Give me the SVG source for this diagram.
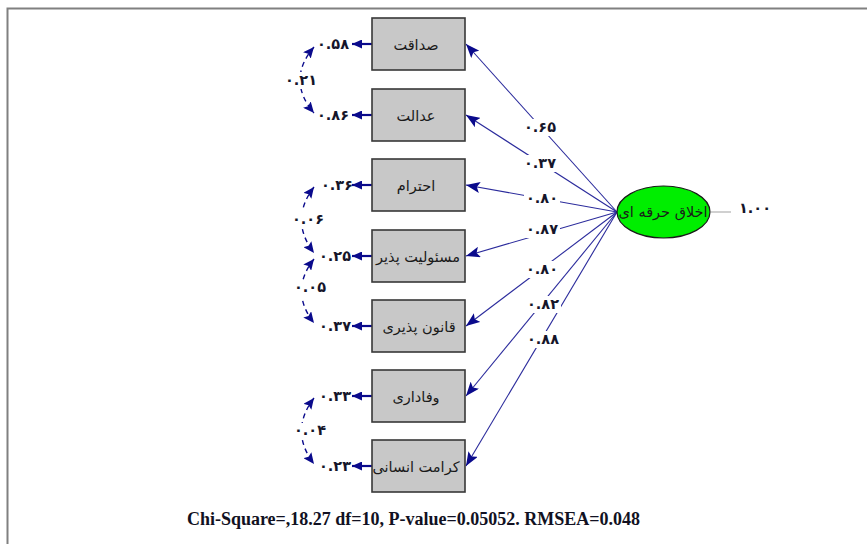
<svg xmlns="http://www.w3.org/2000/svg" width="867" height="544" viewBox="0 0 867 544">
<style>
.box{fill:#c8c8c8;stroke:#383838;stroke-width:1.6}
.bt{font-family:"DejaVu Sans",sans-serif;font-size:14.5px;fill:#1a1a1a;text-anchor:middle}
.num{font-family:"DejaVu Sans",sans-serif;font-size:14.5px;font-weight:bold;fill:#15152a;text-anchor:middle}
.load{stroke:#2b2b9c;stroke-width:1.1;fill:none;marker-end:url(#ah)}
.var{stroke:#0a0a8c;stroke-width:2.2;fill:none;marker-end:url(#ahs)}
.cov{stroke:#0a0a8c;stroke-width:1.4;fill:none;stroke-dasharray:5 4;marker-start:url(#ahc);marker-end:url(#ahc)}
.bg{fill:#ffffff}
</style>
<defs>
<marker id="ah" markerUnits="userSpaceOnUse" markerWidth="14" markerHeight="11" refX="14" refY="5.5" orient="auto"><path d="M0,0 L14,5.5 L0,11 L3,5.5 z" fill="#0a0a8c"/></marker>
<marker id="ahs" markerUnits="userSpaceOnUse" markerWidth="10" markerHeight="9" refX="10" refY="4.5" orient="auto"><path d="M0,0 L10,4.5 L0,9 z" fill="#0a0a8c"/></marker>
<marker id="ahc" markerUnits="userSpaceOnUse" markerWidth="11" markerHeight="10" refX="11" refY="5" orient="auto-start-reverse"><path d="M0,0 L11,5 L0,10 L2,5 z" fill="#0a0a8c"/></marker>
</defs>
<rect width="867" height="544" fill="#ffffff"/>
<path d="M7.5,544 V8.5 H867" fill="none" stroke="#808080" stroke-width="2"/>

<g id="connectors">
<path class="load" d="M617,212 L466,44"/>
<path class="load" d="M617,212 L466,115"/>
<path class="load" d="M617,212 L466,185"/>
<path class="load" d="M617,212 L466,256"/>
<path class="load" d="M617,212 L466,326"/>
<path class="load" d="M617,212 L466,396"/>
<path class="load" d="M617,212 L466,466"/>
<path d="M711,212 H731" stroke="#c0c0c0" stroke-width="1.5"/>
<path class="var" d="M372,44 H352"/>
<path class="var" d="M372,115 H352"/>
<path class="var" d="M372,185 H352"/>
<path class="var" d="M372,256 H352"/>
<path class="var" d="M372,326 H352"/>
<path class="var" d="M372,396 H352"/>
<path class="var" d="M372,466 H352"/>
<path class="cov" d="M314,47 Q286,80 314,113"/>
<path class="cov" d="M314,187 Q289,220 314,253"/>
<path class="cov" d="M314,259 Q289,291 314,323"/>
<path class="cov" d="M314,398 Q289,431 314,464"/>
<g id="loading-labels">
<rect class="bg" x="522" y="119" width="36" height="17"/><text class="num" x="540" y="132">۰.۶۵</text>
<rect class="bg" x="522" y="155" width="36" height="17"/><text class="num" x="540" y="168">۰.۳۷</text>
<rect class="bg" x="524" y="190" width="36" height="17"/><text class="num" x="542" y="203">۰.۸۰</text>
<rect class="bg" x="524" y="221" width="36" height="17"/><text class="num" x="542" y="234">۰.۸۷</text>
<rect class="bg" x="524" y="261" width="36" height="17"/><text class="num" x="542" y="274">۰.۸۰</text>
<rect class="bg" x="525" y="296" width="36" height="17"/><text class="num" x="543" y="309">۰.۸۲</text>
<rect class="bg" x="525" y="331" width="36" height="17"/><text class="num" x="543" y="344">۰.۸۸</text>
</g>
<g id="cov-labels">
<rect class="bg" x="285" y="72" width="32" height="17"/><text class="num" x="301" y="85">۰.۲۱</text>
<rect class="bg" x="292" y="211" width="32" height="17"/><text class="num" x="308" y="224">۰.۰۶</text>
<rect class="bg" x="294" y="280" width="32" height="17"/><text class="num" x="310" y="292">۰.۰۵</text>
<rect class="bg" x="294" y="423" width="32" height="17"/><text class="num" x="310" y="435">۰.۰۴</text>
</g>
</g>

<g id="var-labels">
<text class="num" x="333" y="49">۰.۵۸</text>
<text class="num" x="333" y="120">۰.۸۶</text>
<text class="num" x="337" y="190">۰.۳۶</text>
<text class="num" x="335" y="261">۰.۲۵</text>
<text class="num" x="335" y="331">۰.۳۷</text>
<text class="num" x="335" y="401">۰.۳۳</text>
<text class="num" x="335" y="471">۰.۲۳</text>
</g>

<g id="n1"><rect class="box" x="372" y="18" width="93" height="52"/><text class="bt" x="416" y="50">صداقت</text></g>
<g id="n2"><rect class="box" x="372" y="89" width="93" height="52"/><text class="bt" x="416" y="121">عدالت</text></g>
<g id="n3"><rect class="box" x="372" y="159" width="93" height="52"/><text class="bt" x="416" y="191">احترام</text></g>
<g id="n4"><rect class="box" x="372" y="230" width="93" height="52"/><text class="bt" x="418" y="262">مسئولیت پذیر</text></g>
<g id="n5"><rect class="box" x="372" y="300" width="93" height="52"/><text class="bt" x="419" y="332">قانون پذیری</text></g>
<g id="n6"><rect class="box" x="372" y="370" width="93" height="52"/><text class="bt" x="416" y="402">وفاداری</text></g>
<g id="n7"><rect class="box" x="372" y="440" width="93" height="52"/><text class="bt" x="416" y="472">کرامت انسانی</text></g>

<g id="latent"><ellipse cx="663.5" cy="212" rx="46.5" ry="26" fill="#00ee00" stroke="#1a1a1a" stroke-width="1.2"/><text class="bt" x="663" y="217">اخلاق حرقه ای</text></g>
<text class="num" x="755" y="213">۱.۰۰</text>

<text x="413.5" y="525" font-family="'Liberation Serif',serif" font-size="18" font-weight="bold" fill="#111122" text-anchor="middle">Chi-Square=,18.27 df=10, P-value=0.05052. RMSEA=0.048</text>
</svg>
